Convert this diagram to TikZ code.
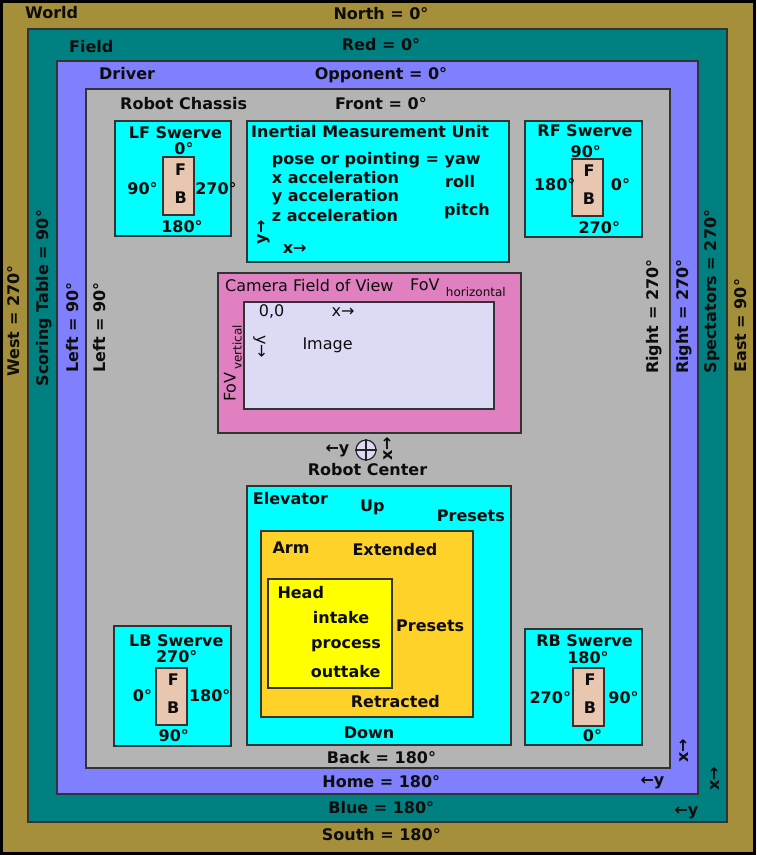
\documentclass[tikz,border=0pt]{standalone}
\usepackage{fontspec}
\setmainfont{DejaVu Sans}
\begin{document}
\begin{tikzpicture}[x=1pt,y=-1pt,
  box/.style={draw=black!80,line width=1.4pt},
  lbl/.style={font=\bfseries\fontsize{16}{19}\selectfont,inner sep=0pt,text=black!95},
  rlbl/.style={font=\fontsize{16}{19}\selectfont,inner sep=0pt,text=black!95},
  slbl/.style={font=\fontsize{12}{14}\selectfont,inner sep=0pt,text=black!95}]
\definecolor{cworld}{RGB}{166,143,58}
\definecolor{cfield}{RGB}{0,128,128}
\definecolor{cdriver}{RGB}{128,128,255}
\definecolor{cchassis}{RGB}{180,180,180}
\definecolor{ccyan}{RGB}{0,255,255}
\definecolor{cpink}{RGB}{224,128,192}
\definecolor{clav}{RGB}{221,218,245}
\definecolor{ctan}{RGB}{233,198,175}
\definecolor{corange}{RGB}{255,210,42}
\definecolor{cyel}{RGB}{255,255,0}
\useasboundingbox (0,0) rectangle (756,855);
% nested frames
\draw[box,fill=cworld,draw=black,line width=2.5pt] (1.5,1.5) rectangle (754.5,853.5);
\draw[box,fill=cfield] (28,29) rectangle (727,822);
\draw[box,fill=cdriver] (57,61) rectangle (698,794);
\draw[box,fill=cchassis] (86,89) rectangle (670,768);
% frame labels
\node[lbl,anchor=base west] (world) at (25,18) {World};
\node[lbl,anchor=base] (north) at (381,19) {North = 0°};
\node[lbl,anchor=base west] (field) at (69,52) {Field};
\node[lbl,anchor=base] (red) at (381,50) {Red = 0°};
\node[lbl,anchor=base west] (driver) at (99,79) {Driver};
\node[lbl,anchor=base] (opp) at (381,79) {Opponent = 0°};
\node[lbl,anchor=base west] (chassis) at (120,109) {Robot Chassis};
\node[lbl,anchor=base] (front) at (381,109) {Front = 0°};
\node[lbl,anchor=base] (back) at (381.5,763) {Back = 180°};
\node[lbl,anchor=base] (home) at (381.3,787.5) {Home = 180°};
\node[lbl,anchor=base] (blue) at (381.3,813.5) {Blue = 180°};
\node[lbl,anchor=base] (south) at (381.3,840.5) {South = 180°};
\node[lbl,anchor=base,rotate=90] (west) at (19.5,321) {West = 270°};
\node[lbl,anchor=base,rotate=90] (scoring) at (48,298) {Scoring Table = 90°};
\node[lbl,anchor=base,rotate=90] (leftd) at (78,327.5) {Left = 90°};
\node[lbl,anchor=base,rotate=90] (leftc) at (105,327.5) {Left = 90°};
\node[lbl,anchor=base,rotate=90] (rightc) at (658,316.7) {Right = 270°};
\node[lbl,anchor=base,rotate=90] (rightd) at (688,316.7) {Right = 270°};
\node[lbl,anchor=base,rotate=90] (spect) at (716,291.5) {Spectators = 270°};
\node[lbl,anchor=base,rotate=90] (east) at (746,325.8) {East = 90°};
% axes
\node[lbl,anchor=base,rotate=90] (dx) at (688.5,751) {x→};
\node[lbl,anchor=base] (dy) at (652.5,785) {←y};
\node[lbl,anchor=base,rotate=90] (fx) at (719,779) {x→};
\node[lbl,anchor=base] (fy) at (686.5,815) {←y};
% LF swerve
\draw[box,fill=ccyan] (115,121) rectangle (231,236);
\draw[box,fill=ctan] (163,157) rectangle (194,215);
\node[lbl,anchor=base] (lf) at (175.5,138) {LF Swerve};
\node[lbl,anchor=base] (lf0) at (184,154) {0°};
\node[lbl,anchor=base] (lfF) at (180.7,175) {F};
\node[lbl,anchor=base] (lfB) at (180.7,203) {B};
\node[lbl,anchor=base] (lf90) at (142.5,194) {90°};
\node[lbl,anchor=base] (lf270) at (216,194) {270°};
\node[lbl,anchor=base] (lf180) at (182,232) {180°};
% RF swerve
\draw[box,fill=ccyan] (525,121) rectangle (642,237);
\draw[box,fill=ctan] (572,159) rectangle (603,216);
\node[lbl,anchor=base] (rf) at (585,136) {RF Swerve};
\node[lbl,anchor=base] (rf90) at (585.8,157) {90°};
\node[lbl,anchor=base] (rfF) at (589,176) {F};
\node[lbl,anchor=base] (rfB) at (589,204) {B};
\node[lbl,anchor=base] (rf180) at (554.7,190) {180°};
\node[lbl,anchor=base] (rf0) at (620.5,190) {0°};
\node[lbl,anchor=base] (rf270) at (599.3,233) {270°};
% LB swerve
\draw[box,fill=ccyan] (114,626) rectangle (231,746);
\draw[box,fill=ctan] (156,668) rectangle (187,725);
\node[lbl,anchor=base] (lb) at (176.3,646) {LB Swerve};
\node[lbl,anchor=base] (lb270) at (176.7,662) {270°};
\node[lbl,anchor=base] (lbF) at (173.3,685) {F};
\node[lbl,anchor=base] (lbB) at (173.3,713) {B};
\node[lbl,anchor=base] (lb0) at (142.5,701) {0°};
\node[lbl,anchor=base] (lb180) at (209.7,701) {180°};
\node[lbl,anchor=base] (lb90) at (173.8,741) {90°};
% RB swerve
\draw[box,fill=ccyan] (525,629) rectangle (642,745);
\draw[box,fill=ctan] (573,668) rectangle (604,726);
\node[lbl,anchor=base] (rb) at (584.5,646) {RB Swerve};
\node[lbl,anchor=base] (rb180) at (588,663) {180°};
\node[lbl,anchor=base] (rbF) at (590,685) {F};
\node[lbl,anchor=base] (rbB) at (590,713) {B};
\node[lbl,anchor=base] (rb270) at (550.3,703) {270°};
\node[lbl,anchor=base] (rb90) at (623.5,703) {90°};
\node[lbl,anchor=base] (rb0) at (592.5,741) {0°};
% IMU
\draw[box,fill=ccyan] (247,121) rectangle (509,262);
\node[lbl,anchor=base west] (imu) at (251,137) {Inertial Measurement Unit};
\node[lbl,anchor=base west] (pose) at (271.7,164) {pose or pointing = yaw};
\node[lbl,anchor=base west] (xacc) at (271.7,183.3) {x acceleration};
\node[lbl,anchor=base west] (yacc) at (271.7,201.5) {y acceleration};
\node[lbl,anchor=base west] (zacc) at (271.7,221.5) {z acceleration};
\node[lbl,anchor=base west] (roll) at (445,187.7) {roll};
\node[lbl,anchor=base west] (pitch) at (444,215) {pitch};
\node[lbl,anchor=base,rotate=90] (imuy) at (266,232.5) {y→};
\node[lbl,anchor=base west] (imux) at (282.7,253.5) {x→};
% Camera
\draw[box,fill=cpink] (218,273) rectangle (521,433);
\draw[box,fill=clav] (244,302) rectangle (494,409);
\node[rlbl,anchor=base west] (cam) at (225,291) {Camera Field of View};
\node[rlbl,anchor=base west] (fovh) at (410,290) {FoV};
\node[slbl,anchor=base west] (horiz) at (445.7,296) {horizontal};
\node[rlbl,anchor=base west,rotate=90] (fovv) at (235.5,402) {FoV};
\node[slbl,anchor=base west,rotate=90] (vert) at (241.5,370) {vertical};
\node[rlbl,anchor=base] (orig) at (271.7,316) {0,0};
\node[rlbl,anchor=base] (camx) at (343,316) {x→};
\node[rlbl,anchor=base west] (image) at (302.3,349.3) {Image};
\node[rlbl,anchor=base,rotate=-90] (camy) at (256.5,346.5) {y→};
% Robot center
\node[draw=black!85,line width=1.2pt,fill=clav,circle,minimum size=20pt,inner sep=0pt] (rc) at (366,450) {};
\draw[black!85,line width=1.2pt] (rc.north) -- (rc.south) (rc.west) -- (rc.east);
\node[lbl,anchor=base] (rcy) at (337.5,453.3) {←y};
\node[lbl,anchor=base,rotate=90] (rcx) at (392,449) {x→};
\node[lbl,anchor=base] (rclbl) at (367.5,475.5) {Robot Center};
% Elevator
\draw[box,fill=ccyan] (247,486) rectangle (511,745);
\node[lbl,anchor=base west] (elev) at (252.7,504.5) {Elevator};
\node[lbl,anchor=base] (up) at (372.3,511.7) {Up};
\node[lbl,anchor=base west] (epre) at (436.7,521.7) {Presets};
\node[lbl,anchor=base] (down) at (369,738.3) {Down};
% Arm
\draw[box,fill=corange] (261,531) rectangle (473,717);
\node[lbl,anchor=base west] (arm) at (272.3,553.5) {Arm};
\node[lbl,anchor=base west] (ext) at (352.3,555) {Extended};
\node[lbl,anchor=base west] (apre) at (396,631.7) {Presets};
\node[lbl,anchor=base west] (retr) at (350.7,707.3) {Retracted};
% Head
\draw[box,fill=cyel] (268,579) rectangle (392,688);
\node[lbl,anchor=base west] (head) at (277.3,598.5) {Head};
\node[lbl,anchor=base west] (intake) at (312.7,623.5) {intake};
\node[lbl,anchor=base west] (proc) at (311,648.5) {process};
\node[lbl,anchor=base west] (outt) at (310.7,677.3) {outtake};
\end{tikzpicture}
\end{document}
